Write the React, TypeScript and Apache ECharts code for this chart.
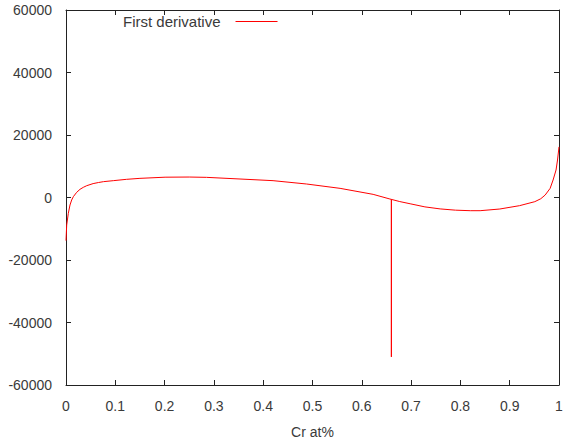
import React, { useEffect, useRef } from "react";
import * as echarts from "echarts";

const seriesName = "First derivative";
const xAxisName = "Cr at%";
const xValues = [0, 0.0014, 0.0047, 0.0081, 0.0115, 0.0149, 0.0216, 0.0284, 0.035, 0.042, 0.055, 0.066, 0.076, 0.096, 0.123, 0.15, 0.201, 0.25, 0.285, 0.353, 0.42, 0.488, 0.556, 0.623, 0.657, 0.66, 0.66, 0.66, 0.677, 0.698, 0.728, 0.759, 0.79, 0.82, 0.84, 0.88, 0.92, 0.951, 0.963, 0.972, 0.982, 0.988, 0.994, 0.997, 1.0];
const yValues = [-13800, -8800, -5060, -2400, -800, 270, 1650, 2620, 3250, 3780, 4450, 4800, 5070, 5390, 5820, 6130, 6500, 6550, 6450, 5920, 5390, 4320, 2930, 1010, -480, -600, -51000, -600, -1300, -2000, -3000, -3650, -4050, -4220, -4220, -3680, -2610, -1330, -400, 800, 2930, 5600, 8800, 12000, 16200];

const axisColor = "#222";
const labelColor = "#3a3a3a";
const font = "Liberation Sans, Arial, sans-serif";

export default function App() {
  const ref = useRef<HTMLDivElement>(null);
  useEffect(() => {
    const chart = echarts.init(ref.current!, null, { renderer: "svg" });
    const data = xValues.map((x, i) => [x, yValues[i]]);
    const tick = { show: true, inside: true, length: 5, lineStyle: { color: axisColor } };
    const line = { show: true, onZero: false, lineStyle: { color: axisColor, width: 1 } };
    chart.setOption({
      animation: false,
      grid: { left: 66, right: 4, top: 10, bottom: 56, outerBoundsMode: "none", containLabel: false },
      legend: {
        data: [{ name: seriesName, icon: "rect" }],
        left: 123,
        top: 14,
        padding: 0,
        align: "right",
        itemWidth: 42,
        itemHeight: 1,
        itemStyle: { color: "#ff0000" },
        textStyle: { fontFamily: font, fontSize: 15, color: labelColor, padding: [0, 10, 0, 0] },
      },
      xAxis: [
        {
          type: "value",
          min: 0,
          max: 1,
          interval: 0.1,
          name: xAxisName,
          nameLocation: "middle",
          nameGap: 39,
          nameTextStyle: { fontFamily: font, fontSize: 14, color: labelColor, lineHeight: 16 },
          axisLine: line,
          axisTick: tick,
          axisLabel: { fontFamily: font, fontSize: 14, color: labelColor, margin: 14 },
          splitLine: { show: false },
        },
        {
          type: "value",
          position: "top",
          min: 0,
          max: 1,
          interval: 0.1,
          axisLine: line,
          axisTick: tick,
          axisLabel: { show: false },
          splitLine: { show: false },
        },
      ],
      yAxis: [
        {
          type: "value",
          min: -60000,
          max: 60000,
          interval: 20000,
          axisLine: line,
          axisTick: tick,
          axisLabel: { fontFamily: font, fontSize: 14, color: labelColor, margin: 14, formatter: (v: number) => String(v) },
          splitLine: { show: false },
        },
        {
          type: "value",
          position: "right",
          min: -60000,
          max: 60000,
          interval: 20000,
          axisLine: line,
          axisTick: tick,
          axisLabel: { show: false },
          splitLine: { show: false },
        },
      ],
      series: [
        {
          name: seriesName,
          type: "line",
          data,
          symbol: "none",
          smooth: false,
          lineStyle: { color: "#ff0000", width: 1 },
          itemStyle: { color: "#ff0000" },
        },
      ],
    });
    return () => chart.dispose();
  }, []);
  return <div ref={ref} style={{ width: 563, height: 441, position: "absolute", left: 0, top: 0 }} />;
}
